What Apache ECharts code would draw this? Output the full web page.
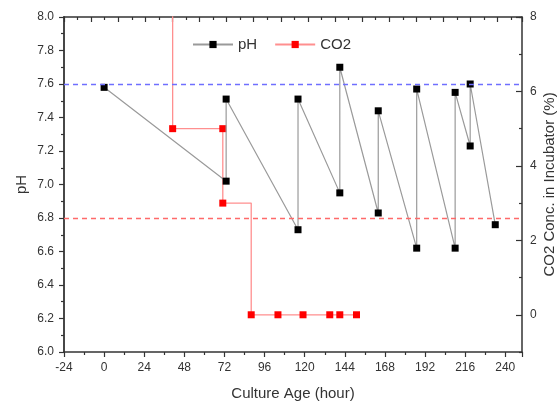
<!DOCTYPE html>
<html>
<head>
<meta charset="utf-8">
<title>pH / CO2 vs culture age</title>
<script src="https://cdn.jsdelivr.net/npm/echarts@6.0.0/dist/echarts.min.js"></script>
<style>
    html, body { margin: 0; padding: 0; background: #fff; }
    #chart { width: 560px; height: 405px; }
</style>
</head>
<body>
<div id="chart"></div>
<script>
// pH samples (hour, pH) - pairs on the same hour: before / after medium change
let phHours = [0, 73, 73, 116, 116, 141, 141, 164, 164, 187, 187, 210, 210, 219, 219, 234];
let phValues = [7.58, 7.02, 7.51, 6.73, 7.51, 6.95, 7.70, 6.83, 7.44, 6.62, 7.57, 6.62, 7.55, 7.23, 7.60, 6.76];

// CO2 setpoint of incubator (%), first value is above the top of the axis
let co2Hours = [41, 41, 71, 71, 88, 104, 119, 135, 141, 151];
let co2Values = [10, 5, 5, 3, 0, 0, 0, 0, 0, 0];

// reference lines on the pH axis
let phUpperLimit = 7.6;
let phLowerLimit = 6.8;

// axis ranges / tick labels
let hourMin = -24, hourMax = 250, hourStep = 24;
let phMin = 6.0, phMax = 8.0, phStep = 0.2;
let co2Min = -1, co2Max = 8;
let co2Labels = [0, 2, 4, 6, 8];

let font = 'Arial, "Liberation Sans", sans-serif';
let axisColor = '#333';

document.addEventListener("DOMContentLoaded", function () {

    let el = document.getElementById('chart');
    let chart = echarts.init(el, null, { renderer: 'canvas' });

    let phData = phHours.map((h, i) => [h, phValues[i]]);
    let co2Data = co2Hours.map((h, i) => [h, co2Values[i]]);

    let frameLine = { onZero: false, lineStyle: { color: axisColor, width: 1.5 } };
    let tickLine = { color: axisColor, width: 1.2 };

    chart.setOption({
        animation: false,
        backgroundColor: '#fff',
        textStyle: { fontFamily: font },
        grid: { left: 64, right: 38, top: 17, bottom: 53, containLabel: false, outerBoundsMode: 'none' },
        legend: {
            data: ['pH', 'CO2'],
            left: 187,
            top: 32,
            itemWidth: 40,
            itemHeight: 9,
            itemGap: 17,
            textStyle: { fontSize: 15, color: axisColor, fontFamily: font }
        },
        xAxis: [
            {
                type: 'value',
                position: 'bottom',
                min: hourMin,
                max: hourMax,
                interval: hourStep,
                name: 'Culture Age (hour)',
                nameLocation: 'middle',
                nameGap: 34,
                nameMoveOverlap: false,
                nameTextStyle: { fontSize: 15, color: axisColor, fontFamily: font },
                axisLine: frameLine,
                axisTick: { length: 5, lineStyle: tickLine },
                minorTick: { show: true, splitNumber: 2, length: 3, lineStyle: tickLine },
                axisLabel: { fontSize: 12, color: axisColor, margin: 10, showMaxLabel: false },
                splitLine: { show: false }
            },
            {
                // top frame, ticks only
                type: 'value',
                position: 'top',
                min: 0,
                max: 33.8,
                interval: 2,
                axisLine: frameLine,
                axisTick: { inside: true, length: 5, lineStyle: tickLine },
                minorTick: { show: true, splitNumber: 2, length: 3, lineStyle: tickLine },
                axisLabel: { show: false },
                splitLine: { show: false }
            }
        ],
        yAxis: [
            {
                type: 'value',
                position: 'left',
                min: phMin,
                max: phMax,
                interval: phStep,
                name: 'pH',
                nameLocation: 'middle',
                nameGap: 35,
                nameMoveOverlap: false,
                nameTextStyle: { fontSize: 15, color: axisColor, fontFamily: font },
                axisLine: { onZero: false, lineStyle: { color: axisColor, width: 1.8 } },
                axisTick: { length: 5, lineStyle: tickLine },
                minorTick: { show: true, splitNumber: 2, length: 3, lineStyle: tickLine },
                axisLabel: {
                    fontSize: 12, color: axisColor, margin: 10,
                    formatter: v => v.toFixed(1)
                },
                splitLine: { show: false }
            },
            {
                type: 'value',
                position: 'right',
                min: co2Min,
                max: co2Max,
                interval: 1,
                name: 'CO2 Conc. in Incubator (%)',
                nameLocation: 'middle',
                nameGap: 20,
                nameMoveOverlap: false,
                nameTextStyle: { fontSize: 15, color: axisColor, fontFamily: font },
                axisLine: frameLine,
                axisTick: { inside: true, length: 6, customValues: co2Labels, lineStyle: tickLine },
                axisLabel: { fontSize: 12, color: axisColor, margin: 8, customValues: co2Labels },
                splitLine: { show: false }
            },
            {
                // minor ticks of the CO2 axis (odd values)
                type: 'value',
                position: 'right',
                min: co2Min,
                max: co2Max,
                interval: 2,
                axisLine: { show: false, onZero: false },
                axisTick: { inside: true, length: 3, lineStyle: tickLine },
                axisLabel: { show: false },
                splitLine: { show: false }
            }
        ],
        series: [
            {
                name: 'pH',
                type: 'line',
                xAxisIndex: 0,
                yAxisIndex: 0,
                data: phData,
                symbol: 'rect',
                symbolSize: 7,
                itemStyle: { color: '#000' },
                lineStyle: { color: '#9a9a9a', width: 1.2 },
                z: 3,
                markLine: {
                    silent: true,
                    symbol: 'none',
                    label: { show: false },
                    data: [
                        { yAxis: phUpperLimit, lineStyle: { color: '#6f6fff', type: [5, 4], width: 1.3 } },
                        { yAxis: phLowerLimit, lineStyle: { color: '#ff6a6a', type: [5, 4], width: 1.3 } }
                    ]
                }
            },
            {
                name: 'CO2',
                type: 'line',
                xAxisIndex: 0,
                yAxisIndex: 1,
                data: co2Data,
                step: 'end',
                symbol: 'rect',
                symbolSize: 7,
                itemStyle: { color: '#ff0000' },
                lineStyle: { color: '#ff8f8f', width: 1.3 },
                z: 2
            }
        ]
    });

});
</script>
</body>
</html>
